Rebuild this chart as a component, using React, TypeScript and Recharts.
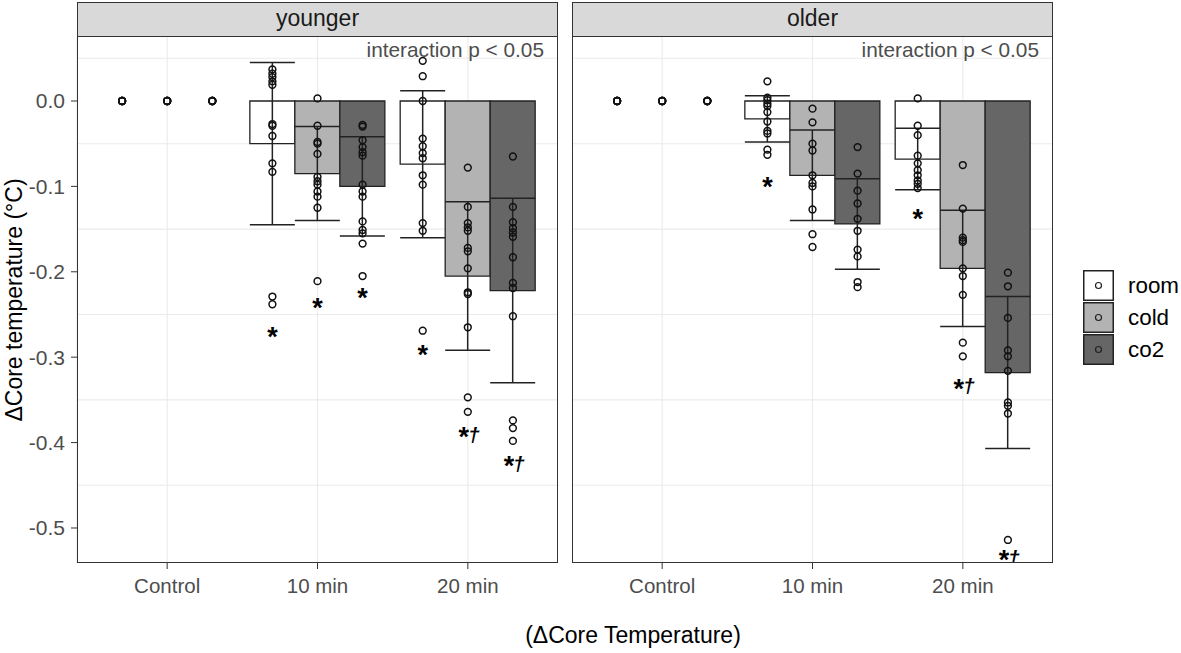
import React from 'react';
import { ComposedChart, Bar, ErrorBar, Scatter, XAxis, YAxis, CartesianGrid } from 'recharts';

const CONDITIONS = ['Control', '10 min', '20 min'];
const TREATMENTS = ['room', 'cold', 'co2'];
const FILLS = ['#ffffff', '#b3b3b3', '#666666'];
const Y_TICKS = [0, -0.1, -0.2, -0.3, -0.4, -0.5];
const Y_MINOR = [0.05, -0.05, -0.15, -0.25, -0.35, -0.45];

// bar = mean, whisker = mean ± sd (per condition)
const youngerRoomMean = [0, -0.05, -0.074];
const youngerRoomSd = [0, 0.095, 0.086];
const youngerColdMean = [0, -0.085, -0.205];
const youngerColdSd = [0, 0.055, 0.087];
const youngerCo2Mean = [0, -0.1, -0.222];
const youngerCo2Sd = [0, 0.058, 0.108];
const olderRoomMean = [0, -0.021, -0.068];
const olderRoomSd = [0, 0.027, 0.036];
const olderColdMean = [0, -0.087, -0.196];
const olderColdSd = [0, 0.053, 0.068];
const olderCo2Mean = [0, -0.144, -0.318];
const olderCo2Sd = [0, 0.053, 0.089];

// individual subjects, [Control, 10 min, 20 min]
const youngerRoomPts = [
  [0, 0, 0, 0, 0, 0],
  [0.037, 0.032, 0.028, 0.023, 0.019, -0.027, -0.029, -0.041, -0.073, -0.083, -0.229, -0.238],
  [0.047, 0.029, 0, -0.044, -0.053, -0.061, -0.067, -0.087, -0.098, -0.143, -0.152, -0.269],
];
const youngerColdPts = [
  [0, 0, 0, 0, 0, 0],
  [0.003, -0.029, -0.048, -0.05, -0.062, -0.089, -0.094, -0.098, -0.106, -0.112, -0.125, -0.211],
  [-0.078, -0.124, -0.143, -0.148, -0.152, -0.172, -0.176, -0.196, -0.224, -0.226, -0.265, -0.347, -0.364],
];
const youngerCo2Pts = [
  [0, 0, 0, 0, 0, 0],
  [-0.028, -0.03, -0.046, -0.054, -0.06, -0.064, -0.098, -0.106, -0.112, -0.141, -0.151, -0.155, -0.167, -0.205],
  [-0.065, -0.124, -0.142, -0.149, -0.154, -0.159, -0.183, -0.213, -0.219, -0.252, -0.374, -0.383, -0.398],
];
const olderRoomPts = [
  [0, 0, 0, 0, 0, 0],
  [0.023, 0.004, 0.001, -0.003, -0.006, -0.013, -0.024, -0.035, -0.038, -0.057, -0.063],
  [0.003, -0.029, -0.04, -0.064, -0.073, -0.081, -0.087, -0.093, -0.097, -0.102],
];
const olderColdPts = [
  [0, 0, 0, 0, 0, 0],
  [-0.009, -0.025, -0.05, -0.058, -0.087, -0.096, -0.1, -0.127, -0.156, -0.171],
  [-0.075, -0.126, -0.16, -0.163, -0.165, -0.196, -0.205, -0.227, -0.283, -0.299],
];
const olderCo2Pts = [
  [0, 0, 0, 0, 0, 0],
  [-0.054, -0.085, -0.105, -0.12, -0.138, -0.152, -0.174, -0.182, -0.212, -0.218],
  [-0.201, -0.217, -0.254, -0.292, -0.299, -0.316, -0.353, -0.357, -0.366, -0.514],
];

// significance marks: [condition index, treatment index, y, text]
const youngerMarks: [number, number, number, string][] = [
  [1, 0, -0.268, '*'],
  [1, 1, -0.234, '*'],
  [1, 2, -0.223, '*'],
  [2, 0, -0.289, '*'],
  [2, 1, -0.386, '*†'],
  [2, 2, -0.42, '*†'],
];
const olderMarks: [number, number, number, string][] = [
  [1, 0, -0.093, '*'],
  [2, 0, -0.13, '*'],
  [2, 1, -0.329, '*†'],
  [2, 2, -0.53, '*†'],
];

const DODGE = [-0.3, 0, 0.3];
const FONT = '"Liberation Sans", Arial, Helvetica, sans-serif';
const PANEL_TOP = 36;
const PANEL_H = 527;
const PANEL_W = 481;

function buildRows(means: number[][], sds: number[][]) {
  return CONDITIONS.map((cond, i) => {
    const row: Record<string, string | number> = { cond };
    TREATMENTS.forEach((t, j) => {
      row[t] = means[j][i];
      row[t + 'Sd'] = sds[j][i];
    });
    return row;
  });
}

function buildPoints(groups: number[][][]) {
  const out: { x: number; y: number }[] = [];
  groups.forEach((g, j) =>
    g.forEach((vals, i) => vals.forEach((v) => out.push({ x: i + 1 + DODGE[j], y: v })))
  );
  return out;
}

function buildMarks(marks: [number, number, number, string][]) {
  return marks.map(([c, t, y, label]) => ({ x: c + 1 + DODGE[t], y, label }));
}

const Dot = (p: any) => (
  <circle cx={p.cx} cy={p.cy} r={3.4} fill="none" stroke="#111" strokeWidth={1.5} />
);

// asterisk drawn large, dagger beside it (as in the figure)
const Mark = (p: any) => {
  const label: string = p.payload.label;
  const star = 27;
  const dag = 21;
  const withDagger = label.length > 1;
  return (
    <g fontFamily={FONT} fill="#000">
      <text
        x={withDagger ? p.cx - 4 : p.cx}
        y={p.cy + 0.585 * star}
        textAnchor="middle"
        fontSize={star}
        fontWeight="bold"
      >
        *
      </text>
      {withDagger && (
        <text
          x={p.cx + 6}
          y={p.cy + 11}
          textAnchor="middle"
          fontSize={dag}
          fontWeight="bold"
          fontStyle="italic"
        >
          †
        </text>
      )}
    </g>
  );
};

function Facet({
  rows,
  points,
  marks,
  showY,
  width,
}: {
  rows: Record<string, string | number>[];
  points: { x: number; y: number }[];
  marks: { x: number; y: number; label: string }[];
  showY: boolean;
  width: number;
}) {
  return (
    <ComposedChart
      width={width}
      height={600}
      data={rows}
      margin={{ top: PANEL_TOP, right: 0, bottom: 0, left: 0 }}
      barCategoryGap="5%"
      barGap={0}
    >
      <CartesianGrid
        xAxisId="cat"
        stroke="#ebebeb"
        strokeWidth={1.1}
        horizontalValues={[...Y_TICKS, ...Y_MINOR]}
      />
      <XAxis
        xAxisId="cat"
        dataKey="cond"
        type="category"
        padding={{ left: 15, right: 15 }}
        height={37}
        axisLine={false}
        tickLine={{ stroke: '#333' }}
        tickSize={6}
        tickMargin={9}
        tick={{ fill: '#4d4d4d', fontSize: 20.5, fontFamily: FONT }}
        interval={0}
      />
      <XAxis xAxisId="num" dataKey="x" type="number" domain={[0.4, 3.6]} hide />
      <YAxis
        type="number"
        domain={[-0.541, 0.0761]}
        allowDataOverflow
        ticks={Y_TICKS}
        tickFormatter={(v: number) => v.toFixed(1)}
        width={77}
        hide={!showY}
        axisLine={false}
        tickLine={{ stroke: '#333' }}
        tickSize={6}
        tickMargin={6}
        tick={{ fill: '#4d4d4d', fontSize: 21, fontFamily: FONT }}
      />
      {TREATMENTS.map((t, j) => (
        <Bar
          key={t}
          xAxisId="cat"
          dataKey={t}
          fill={FILLS[j]}
          stroke="#222"
          strokeWidth={1.3}
          isAnimationActive={false}
        >
          <ErrorBar dataKey={t + 'Sd'} width={22.5} stroke="#222" strokeWidth={1.5} />
        </Bar>
      ))}
      <Scatter xAxisId="num" data={points} dataKey="y" shape={Dot} isAnimationActive={false} />
      <Scatter xAxisId="num" data={marks} dataKey="y" shape={Mark} isAnimationActive={false} />
    </ComposedChart>
  );
}

function Strip({ left, label }: { left: number; label: string }) {
  return (
    <div
      style={{
        position: 'absolute',
        left,
        top: 2,
        width: PANEL_W,
        height: PANEL_TOP - 1,
        boxSizing: 'border-box',
        background: '#d9d9d9',
        border: '1.5px solid #333',
        fontSize: 23,
        color: '#1a1a1a',
        textAlign: 'center',
        lineHeight: '31px',
      }}
    >
      {label}
    </div>
  );
}

function PanelFrame({ left }: { left: number }) {
  return (
    <>
      <div
        style={{
          position: 'absolute',
          left,
          top: PANEL_TOP,
          width: PANEL_W,
          height: PANEL_H,
          boxSizing: 'border-box',
          border: '1.5px solid #333',
          pointerEvents: 'none',
        }}
      />
      <div
        style={{
          position: 'absolute',
          left: left + PANEL_W - 360,
          width: 346,
          top: 38,
          textAlign: 'right',
          fontSize: 20.8,
          color: '#4d4d4d',
        }}
      >
        interaction p &lt; 0.05
      </div>
    </>
  );
}

function LegendKey({ fill, label, top }: { fill: string; label: string; top: number }) {
  return (
    <div style={{ position: 'absolute', left: 1083, top, height: 31, display: 'flex', alignItems: 'center' }}>
      <svg width={31} height={31}>
        <rect x={0.75} y={0.75} width={29.5} height={29.5} fill={fill} stroke="#222" strokeWidth={1.5} />
        <circle cx={15.5} cy={15.5} r={3} fill="none" stroke="#222" strokeWidth={1.2} />
      </svg>
      <span style={{ marginLeft: 14, fontSize: 22.4, color: '#000' }}>{label}</span>
    </div>
  );
}

export default function App() {
  const younger = buildRows(
    [youngerRoomMean, youngerColdMean, youngerCo2Mean],
    [youngerRoomSd, youngerColdSd, youngerCo2Sd]
  );
  const older = buildRows(
    [olderRoomMean, olderColdMean, olderCo2Mean],
    [olderRoomSd, olderColdSd, olderCo2Sd]
  );
  return (
    <div
      style={{
        position: 'absolute',
        left: 0,
        top: 0,
        width: 1181,
        height: 653,
        background: '#fff',
        fontFamily: FONT,
        overflow: 'hidden',
      }}
    >
      <div style={{ position: 'absolute', left: 0, top: 0 }}>
        <Facet
          rows={younger}
          points={buildPoints([youngerRoomPts, youngerColdPts, youngerCo2Pts])}
          marks={buildMarks(youngerMarks)}
          showY
          width={77 + PANEL_W}
        />
      </div>
      <div style={{ position: 'absolute', left: 572, top: 0 }}>
        <Facet
          rows={older}
          points={buildPoints([olderRoomPts, olderColdPts, olderCo2Pts])}
          marks={buildMarks(olderMarks)}
          showY={false}
          width={PANEL_W}
        />
      </div>
      <Strip left={77} label="younger" />
      <Strip left={572} label="older" />
      <PanelFrame left={77} />
      <PanelFrame left={572} />
      <div
        style={{
          position: 'absolute',
          left: 14,
          top: 300,
          transform: 'translate(-50%, -50%) rotate(-90deg)',
          whiteSpace: 'nowrap',
          fontSize: 23,
          color: '#000',
        }}
      >
        ΔCore temperature (°C)
      </div>
      <div
        style={{
          position: 'absolute',
          left: 633,
          top: 635,
          transform: 'translate(-50%, -50%)',
          whiteSpace: 'nowrap',
          fontSize: 23,
          color: '#000',
        }}
      >
        (ΔCore Temperature)
      </div>
      <LegendKey fill={FILLS[0]} label="room" top={270} />
      <LegendKey fill={FILLS[1]} label="cold" top={302} />
      <LegendKey fill={FILLS[2]} label="co2" top={334} />
    </div>
  );
}
